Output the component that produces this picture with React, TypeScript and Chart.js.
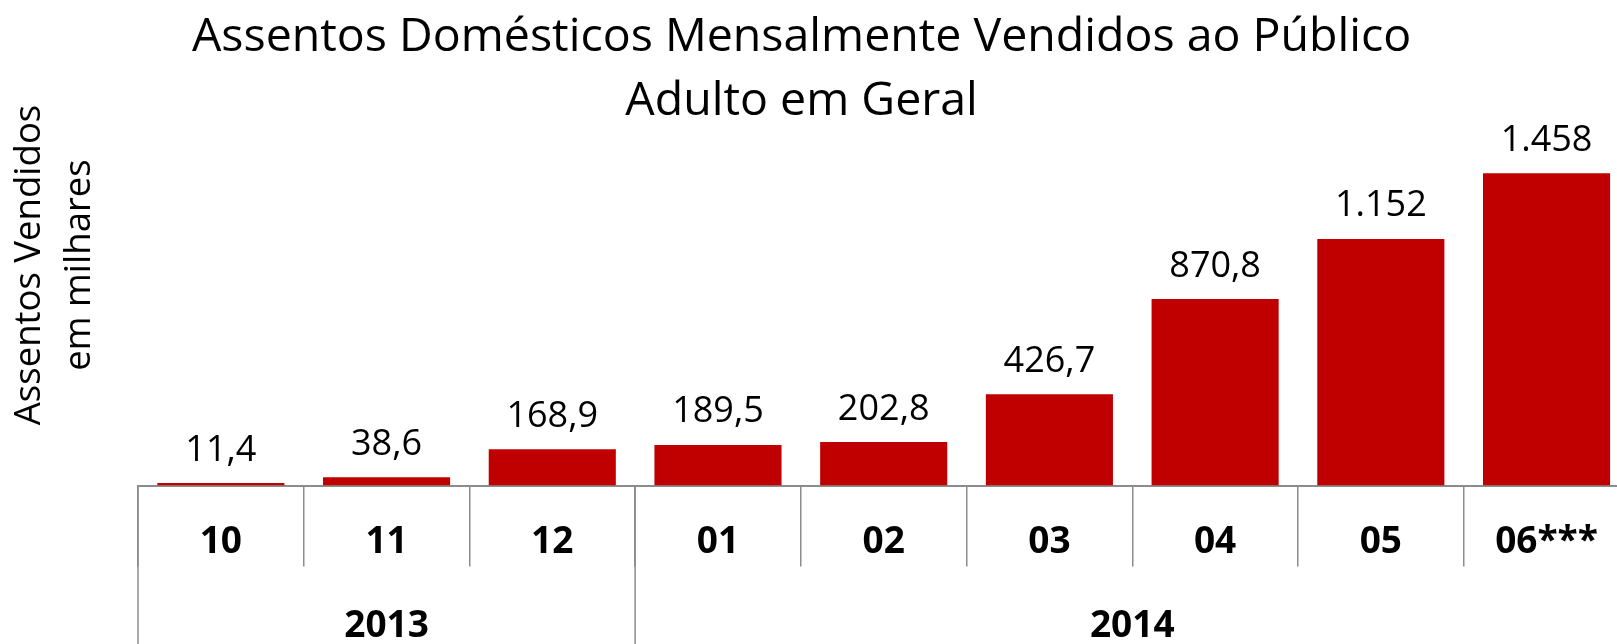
import React, { useEffect, useRef } from 'react';
import { Chart, registerables } from 'chart.js';

Chart.register(...registerables);

const months = ['10', '11', '12', '01', '02', '03', '04', '05', '06***'];
const years = ['2013', '2014'];
const yearSpans = [3, 6];
const seats = [11.4, 38.6, 168.9, 189.5, 202.8, 426.7, 870.8, 1152, 1458];
const seatLabels = ['11,4', '38,6', '168,9', '189,5', '202,8', '426,7', '870,8', '1.152', '1.458'];
const titleLines = ['Assentos Domésticos Mensalmente Vendidos ao Público', 'Adulto em Geral'];
const yTitleLines = ['Assentos Vendidos', 'em milhares'];

const FONT = '"Open Sans", "Noto Sans", sans-serif';
const LINE = '#8c8c8c';

const overlay = {
  id: 'overlay',
  afterDraw(chart: any) {
    const ctx = chart.ctx as CanvasRenderingContext2D;
    const xs = chart.scales.x;
    const area = chart.chartArea;
    const H = chart.height;
    ctx.save();
    ctx.fillStyle = '#000';
    ctx.textAlign = 'center';
    ctx.textBaseline = 'alphabetic';

    // value labels
    ctx.font = `36px ${FONT}`;
    const meta = chart.getDatasetMeta(0);
    meta.data.forEach((bar: any, i: number) => {
      ctx.fillText(seatLabels[i], bar.x, bar.y - 22.5);
    });

    // year groups
    const half = (xs.getPixelForValue(1) - xs.getPixelForValue(0)) / 2;
    const edge = (i: number) => xs.getPixelForValue(i) - half;
    ctx.strokeStyle = LINE;
    ctx.lineWidth = 1.5;
    ctx.font = `bold 37px ${FONT}`;
    let start = 0;
    years.forEach((yr, g) => {
      const l = edge(start);
      const r = edge(start + yearSpans[g]);
      ctx.beginPath();
      ctx.moveTo(l, area.bottom);
      ctx.lineTo(l, H);
      ctx.stroke();
      ctx.fillText(yr, (l + r) / 2, area.bottom + 151.5);
      start += yearSpans[g];
    });
    const rEnd = edge(start);
    ctx.beginPath();
    ctx.moveTo(rEnd, area.bottom);
    ctx.lineTo(rEnd, H);
    ctx.stroke();

    // title
    ctx.font = `46.5px ${FONT}`;
    ctx.fillText(titleLines[0], 801.6, 50.7);
    ctx.fillText(titleLines[1], 801.6, 115.2);
    ctx.restore();
  },
};

export default function App() {
  const ref = useRef<HTMLCanvasElement | null>(null);
  useEffect(() => {
    if (!ref.current) return;
    const chart = new Chart(ref.current, {
      type: 'bar',
      data: {
        labels: months,
        datasets: [
          {
            data: seats,
            backgroundColor: '#C00000',
            borderWidth: 0,
            categoryPercentage: 1,
            barPercentage: 0.767,
          },
        ],
      },
      options: {
        responsive: false,
        animation: false,
        events: [],
        layout: { padding: { top: 44.5, right: 10.6, left: 0, bottom: 0 } },
        plugins: {
          legend: { display: false },
          title: { display: false },
          tooltip: { enabled: false },
        },
        scales: {
          x: {
            grid: {
              display: true,
              drawOnChartArea: false,
              drawTicks: true,
              tickLength: 81,
              color: LINE,
              lineWidth: 1.5,
              offset: true,
            },
            border: { display: true, color: LINE, width: 2 },
            ticks: {
              color: '#000',
              font: { family: FONT, size: 37, weight: 'bold' },
              padding: -46,
              maxRotation: 0,
              autoSkip: false,
            },
            afterFit: (s: any) => {
              s.height = 158.5;
            },
          },
          y: {
            min: 0,
            max: 2060,
            grid: { display: false },
            border: { display: false },
            ticks: { display: false },
            title: {
              display: true,
              text: yTitleLines,
              color: '#000',
              font: { family: FONT, size: 36.5, lineHeight: 50 / 36.5 },
              padding: { top: 5, bottom: 0 },
            },
            afterFit: (s: any) => {
              s.width = 138;
            },
          },
        },
      },
      plugins: [overlay],
    } as any);
    return () => chart.destroy();
  }, []);

  return (
    <div
      style={{
        position: 'fixed',
        left: 0,
        top: 0,
        width: 1617,
        height: 644,
        overflow: 'hidden',
        background: '#fff',
      }}
    >
      <canvas ref={ref} width={1640} height={644} style={{ display: 'block' }} />
    </div>
  );
}
